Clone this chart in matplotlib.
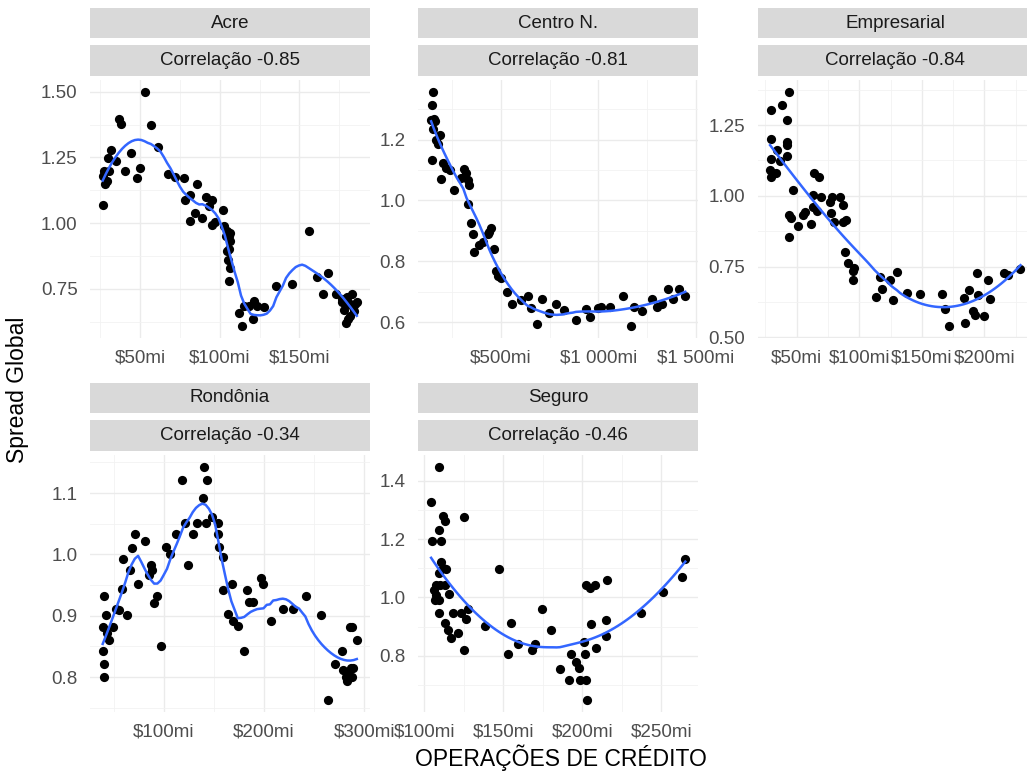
import matplotlib
matplotlib.use("Agg")
import matplotlib.pyplot as plt
import numpy as np
from matplotlib.patches import Rectangle
from matplotlib.ticker import FixedLocator, FuncFormatter

plt.rcParams["font.family"] = ["Liberation Sans", "DejaVu Sans"]

# --- data -------------------------------------------------------------
regions = ["Acre", "Centro N.", "Empresarial", "Rondônia", "Seguro"]
correlations = [-0.85, -0.81, -0.84, -0.34, -0.46]

acre_x = [53.2, 36.8, 38.0, 56.9, 61.1, 31.5, 29.6, 34.7, 44.1, 27.3, 30.7, 26.5, 50.0, 40.8,
          47.9, 27.9, 29.0, 26.5, 67.2, 72.1, 77.7, 85.7, 81.5, 78.4, 91.6, 95.2, 93.1, 101.9,
          84.7, 88.9, 81.5, 95.2, 97.3, 102.5, 104.6, 106.7, 103.6, 106.3, 104.6, 105.0, 106.7,
          105.7, 155.7, 168.0, 161.3, 145.6, 135.3, 164.9, 172.9, 112.0, 114.1, 121.0, 115.1,
          121.4, 127.7, 118.3, 123.5, 176.5, 179.8, 178.2, 180.3, 183.0, 186.0, 181.0, 182.0,
          179.0, 184.0, 177.0, 183.5, 185.0, 180.5, 105.5, 106.0]
acre_y = [1.50, 1.395, 1.379, 1.372, 1.29, 1.28, 1.249, 1.238, 1.267, 1.20, 1.198, 1.18, 1.21,
          1.199, 1.17, 1.149, 1.159, 1.069, 1.185, 1.177, 1.17, 1.149, 1.108, 1.087, 1.10, 1.087,
          1.064, 1.051, 1.038, 1.019, 1.006, 0.991, 1.004, 0.987, 0.968, 0.962, 0.949, 0.93,
          0.892, 0.86, 0.828, 0.781, 0.97, 0.811, 0.793, 0.768, 0.761, 0.73, 0.73, 0.656, 0.607,
          0.636, 0.685, 0.703, 0.68, 0.685, 0.685, 0.698, 0.719, 0.668, 0.636, 0.73, 0.70, 0.69,
          0.645, 0.62, 0.665, 0.71, 0.68, 0.69, 0.70, 0.95, 0.90]

centro_x = [153, 144, 158, 141, 162, 150, 167, 189, 175, 144, 201, 218, 240, 192, 257, 312, 321,
            295, 330, 338, 330, 346, 355, 363, 389, 406, 432, 450, 440, 466, 474, 486, 500, 531,
            555, 603, 640, 654, 685, 709, 748, 782, 825, 888, 936, 956, 996, 1013, 1061, 1127,
            1167, 1184, 1226, 1274, 1303, 1329, 1358, 1384, 1415, 1447]
centro_y = [1.357, 1.315, 1.269, 1.265, 1.262, 1.233, 1.20, 1.214, 1.184, 1.134, 1.123, 1.107,
            1.101, 1.071, 1.033, 1.104, 1.090, 1.074, 1.068, 1.052, 0.988, 0.925, 0.890, 0.832,
            0.854, 0.865, 0.889, 0.911, 0.896, 0.841, 0.768, 0.753, 0.746, 0.698, 0.659, 0.673,
            0.687, 0.647, 0.596, 0.676, 0.631, 0.659, 0.642, 0.607, 0.643, 0.618, 0.647, 0.650,
            0.650, 0.687, 0.587, 0.650, 0.637, 0.678, 0.650, 0.661, 0.709, 0.678, 0.711, 0.687]

empresarial_x = [44.1, 29.7, 38.5, 42.5, 29.5, 42.5, 42.5, 42.5, 34.0, 29.7, 36.7, 28.7, 33.5,
                 29.3, 47.3, 64.1, 68.1, 63.3, 69.5, 78.0, 84.7, 76.3, 86.9, 63.3, 66.0, 77.5,
                 89.5, 87.3, 80.0, 44.1, 45.5, 56.7, 55.3, 61.5, 51.3, 43.9, 88.7, 91.3, 96.1,
                 95.3, 94.8, 116.7, 124.7, 130.0, 118.0, 113.2, 127.3, 138.0, 148.1, 166.3,
                 168.7, 171.3, 183.3, 184.7, 188.0, 190.7, 192.5, 194.1, 194.7, 199.5, 202.7,
                 204.5, 216.0, 218.7, 228.8]
empresarial_y = [1.368, 1.303, 1.321, 1.268, 1.201, 1.191, 1.18, 1.142, 1.162, 1.13, 1.123,
                 1.091, 1.082, 1.068, 1.019, 1.08, 1.066, 1.003, 0.995, 0.995, 0.997, 0.979,
                 0.968, 0.962, 0.947, 0.939, 0.915, 0.907, 0.909, 0.933, 0.921, 0.944, 0.933,
                 0.90, 0.894, 0.853, 0.803, 0.762, 0.745, 0.733, 0.704, 0.713, 0.704, 0.731,
                 0.672, 0.643, 0.631, 0.657, 0.654, 0.653, 0.60, 0.539, 0.639, 0.551, 0.666,
                 0.592, 0.578, 0.729, 0.651, 0.577, 0.701, 0.637, 0.729, 0.721, 0.741]

rondonia_x = [140.3, 143.3, 118.3, 139.3, 121.0, 133.3, 142.0, 147.7, 153.7, 154.3, 129.3, 112.0,
              102.0, 106.0, 124.3, 155.3, 158.7, 159.3, 168.3, 164.3, 169.3, 174.3, 180.3, 182.7,
              185.0, 189.3, 197.0, 198.7, 206.7, 219.3, 228.7, 242.0, 256.7, 277.7, 271.0, 286.0,
              264.3, 279.3, 282.0, 282.7, 284.3, 286.7, 71.0, 81.0, 67.7, 59.3, 66.0, 87.0, 87.7,
              85.3, 74.3, 92.7, 90.3, 58.3, 55.3, 62.7, 96.7, 40.0, 42.0, 39.3, 42.7, 45.3, 48.7,
              52.0, 38.7, 40.0, 40.0, 287.7, 292.7, 289.3, 287.7]
rondonia_y = [1.143, 1.122, 1.122, 1.092, 1.051, 1.051, 1.051, 1.061, 1.051, 1.034, 1.033, 1.033,
              1.012, 1.001, 0.982, 1.012, 0.995, 0.942, 0.951, 0.902, 0.892, 0.883, 0.843, 0.942,
              0.922, 0.922, 0.961, 0.951, 0.892, 0.911, 0.911, 0.932, 0.901, 0.842, 0.822, 0.882,
              0.762, 0.811, 0.80, 0.793, 0.805, 0.814, 1.033, 1.022, 1.011, 0.993, 0.974, 0.982,
              0.974, 0.966, 0.951, 0.932, 0.921, 0.944, 0.910, 0.901, 0.851, 0.932, 0.901, 0.882,
              0.872, 0.861, 0.882, 0.911, 0.842, 0.822, 0.80, 0.882, 0.861, 0.814, 0.80]

seguro_x = [109.5, 104.2, 112.0, 113.1, 125.3, 109.5, 104.9, 110.6, 110.6, 111.6, 113.7, 109.1,
            147.5, 107.4, 110.0, 112.7, 106.3, 107.5, 106.5, 115.8, 109.1, 109.5, 112.7, 114.8,
            116.9, 121.1, 118.0, 123.2, 126.0, 127.5, 125.3, 138.4, 154.9, 152.8, 159.1, 168.2,
            170.3, 174.4, 180.3, 185.6, 191.5, 193.0, 195.7, 197.6, 198.2, 201.0, 201.5, 202.1,
            203.0, 202.5, 204.6, 208.2, 205.6, 208.8, 215.1, 215.5, 214.7, 237.3, 251.0, 263.1,
            265.2]
seguro_y = [1.448, 1.326, 1.280, 1.263, 1.275, 1.231, 1.192, 1.192, 1.121, 1.101, 1.098, 1.083,
            1.098, 1.041, 1.041, 1.041, 1.024, 1.007, 0.990, 1.010, 0.990, 0.947, 0.913, 0.887,
            0.861, 0.878, 0.947, 0.947, 0.927, 0.959, 0.818, 0.901, 0.912, 0.807, 0.839, 0.818,
            0.841, 0.960, 0.889, 0.756, 0.718, 0.807, 0.779, 0.759, 0.718, 0.847, 0.807, 0.716,
            0.647, 1.044, 1.033, 1.044, 0.910, 0.828, 0.921, 1.060, 0.866, 0.948, 1.020, 1.069,
            1.132]

# loess span per panel
spans = [0.36, 0.5, 0.9, 0.3, 1.0]

# tick positions per panel
x_major = [[50, 100, 150], [500, 1000, 1500], [50, 100, 150, 200], [100, 200, 300],
           [100, 150, 200, 250]]
x_minor = [[25, 75, 125, 175], [250, 750, 1250], [25, 75, 125, 175, 225], [50, 150, 250],
           [125, 175, 225]]
y_major = [[0.75, 1.0, 1.25, 1.5], [0.6, 0.8, 1.0, 1.2], [0.5, 0.75, 1.0, 1.25],
           [0.8, 0.9, 1.0, 1.1], [0.8, 1.0, 1.2, 1.4]]
y_minor = [[0.625, 0.875, 1.125, 1.375], [0.7, 0.9, 1.1, 1.3], [0.625, 0.875, 1.125, 1.375],
           [0.75, 0.85, 0.95, 1.05, 1.15], [0.7, 0.9, 1.1, 1.3]]
y_decimals = [2, 1, 2, 1, 1]

series = [(acre_x, acre_y), (centro_x, centro_y), (empresarial_x, empresarial_y),
          (rondonia_x, rondonia_y), (seguro_x, seguro_y)]


def loess(x, y, span, n=80):
    """Local quadratic regression with tricube weights."""
    x = np.asarray(x, float)
    y = np.asarray(y, float)
    grid = np.linspace(x.min(), x.max(), n)
    k = min(max(int(np.floor(span * len(x))), 4), len(x))
    fit = []
    for x0 in grid:
        d = np.abs(x - x0)
        h = np.sort(d)[k - 1] * 1.0001
        if span > 1:
            h *= span
        w = np.clip(1 - (d / h) ** 3, 0, None) ** 3
        A = np.vstack([np.ones_like(x), x - x0, (x - x0) ** 2]).T
        sw = np.sqrt(w)
        beta = np.linalg.lstsq(A * sw[:, None], y * sw, rcond=None)[0]
        fit.append(beta[0])
    return grid, np.array(fit)


def money(v, _pos=None):
    s = f"{int(round(v)):,}".replace(",", " ")
    return f"${s}mi"


W, H = 1027, 774
fig = plt.figure(figsize=(W / 100, H / 100), dpi=100)

cols = [(90, 369.5), (418.4, 698), (757.6, 1033)]
rows = [(80, 338), (455, 712)]
cells = [(0, 0), (0, 1), (0, 2), (1, 0), (1, 1)]

for i, (r, c) in enumerate(cells):
    x0, x1 = cols[c]
    top, bot = rows[r]
    ax = fig.add_axes([x0 / W, 1 - bot / H, (x1 - x0) / W, (bot - top) / H])
    xs, ys = np.asarray(series[i][0]), np.asarray(series[i][1])

    ax.scatter(xs, ys, s=44, color="black", zorder=3, linewidths=0)
    gx, gy = loess(xs, ys, spans[i])
    ax.plot(gx, gy, color="#3366FF", lw=1.8, zorder=4)

    # ggplot-style 5% expansion
    dx = (xs.max() - xs.min()) * 0.05
    dy = (ys.max() - ys.min()) * 0.05
    ax.set_xlim(xs.min() - dx, xs.max() + dx)
    ax.set_ylim(ys.min() - dy, ys.max() + dy)

    ax.xaxis.set_major_locator(FixedLocator(x_major[i]))
    ax.xaxis.set_minor_locator(FixedLocator(x_minor[i]))
    ax.yaxis.set_major_locator(FixedLocator(y_major[i]))
    ax.yaxis.set_minor_locator(FixedLocator(y_minor[i]))
    ax.xaxis.set_major_formatter(FuncFormatter(money))
    dec = y_decimals[i]
    ax.yaxis.set_major_formatter(FuncFormatter(lambda v, p, d=dec: f"{v:.{d}f}"))

    ax.grid(True, which="major", color="#EBEBEB", lw=1.0, zorder=0)
    ax.grid(True, which="minor", color="#F2F2F2", lw=0.6, zorder=0)
    ax.set_axisbelow(True)
    for sp in ax.spines.values():
        sp.set_visible(False)
    ax.tick_params(which="both", length=0, labelsize=13.5, labelcolor="#4D4D4D")
    ax.tick_params(axis="x", pad=8)
    ax.tick_params(axis="y", pad=9)

    # facet strips: region name above, correlation below
    labels = [regions[i], f"Correlação {correlations[i]:.2f}"]
    strip_rows = [(top - 72, top - 42), (top - 35, top - 4)]
    for (sy0, sy1), txt in zip(strip_rows, labels):
        fig.add_artist(Rectangle((x0 / W, 1 - sy1 / H), (x1 - x0) / W, (sy1 - sy0) / H,
                                 transform=fig.transFigure, facecolor="#D9D9D9",
                                 edgecolor="none"))
        fig.text((x0 + x1) / 2 / W, 1 - (sy0 + sy1) / 2 / H, txt, ha="center", va="center",
                 fontsize=13.5, color="#1A1A1A")

fig.text(561 / W, 1 - 758 / H, "OPERAÇÕES DE CRÉDITO", ha="center", va="center",
         fontsize=16.5, color="black")
fig.text(18 / W, 1 - 390 / H, "Spread Global", ha="center", va="center", rotation=90,
         fontsize=16.5, color="black")

fig.savefig("out.png", dpi=100)
